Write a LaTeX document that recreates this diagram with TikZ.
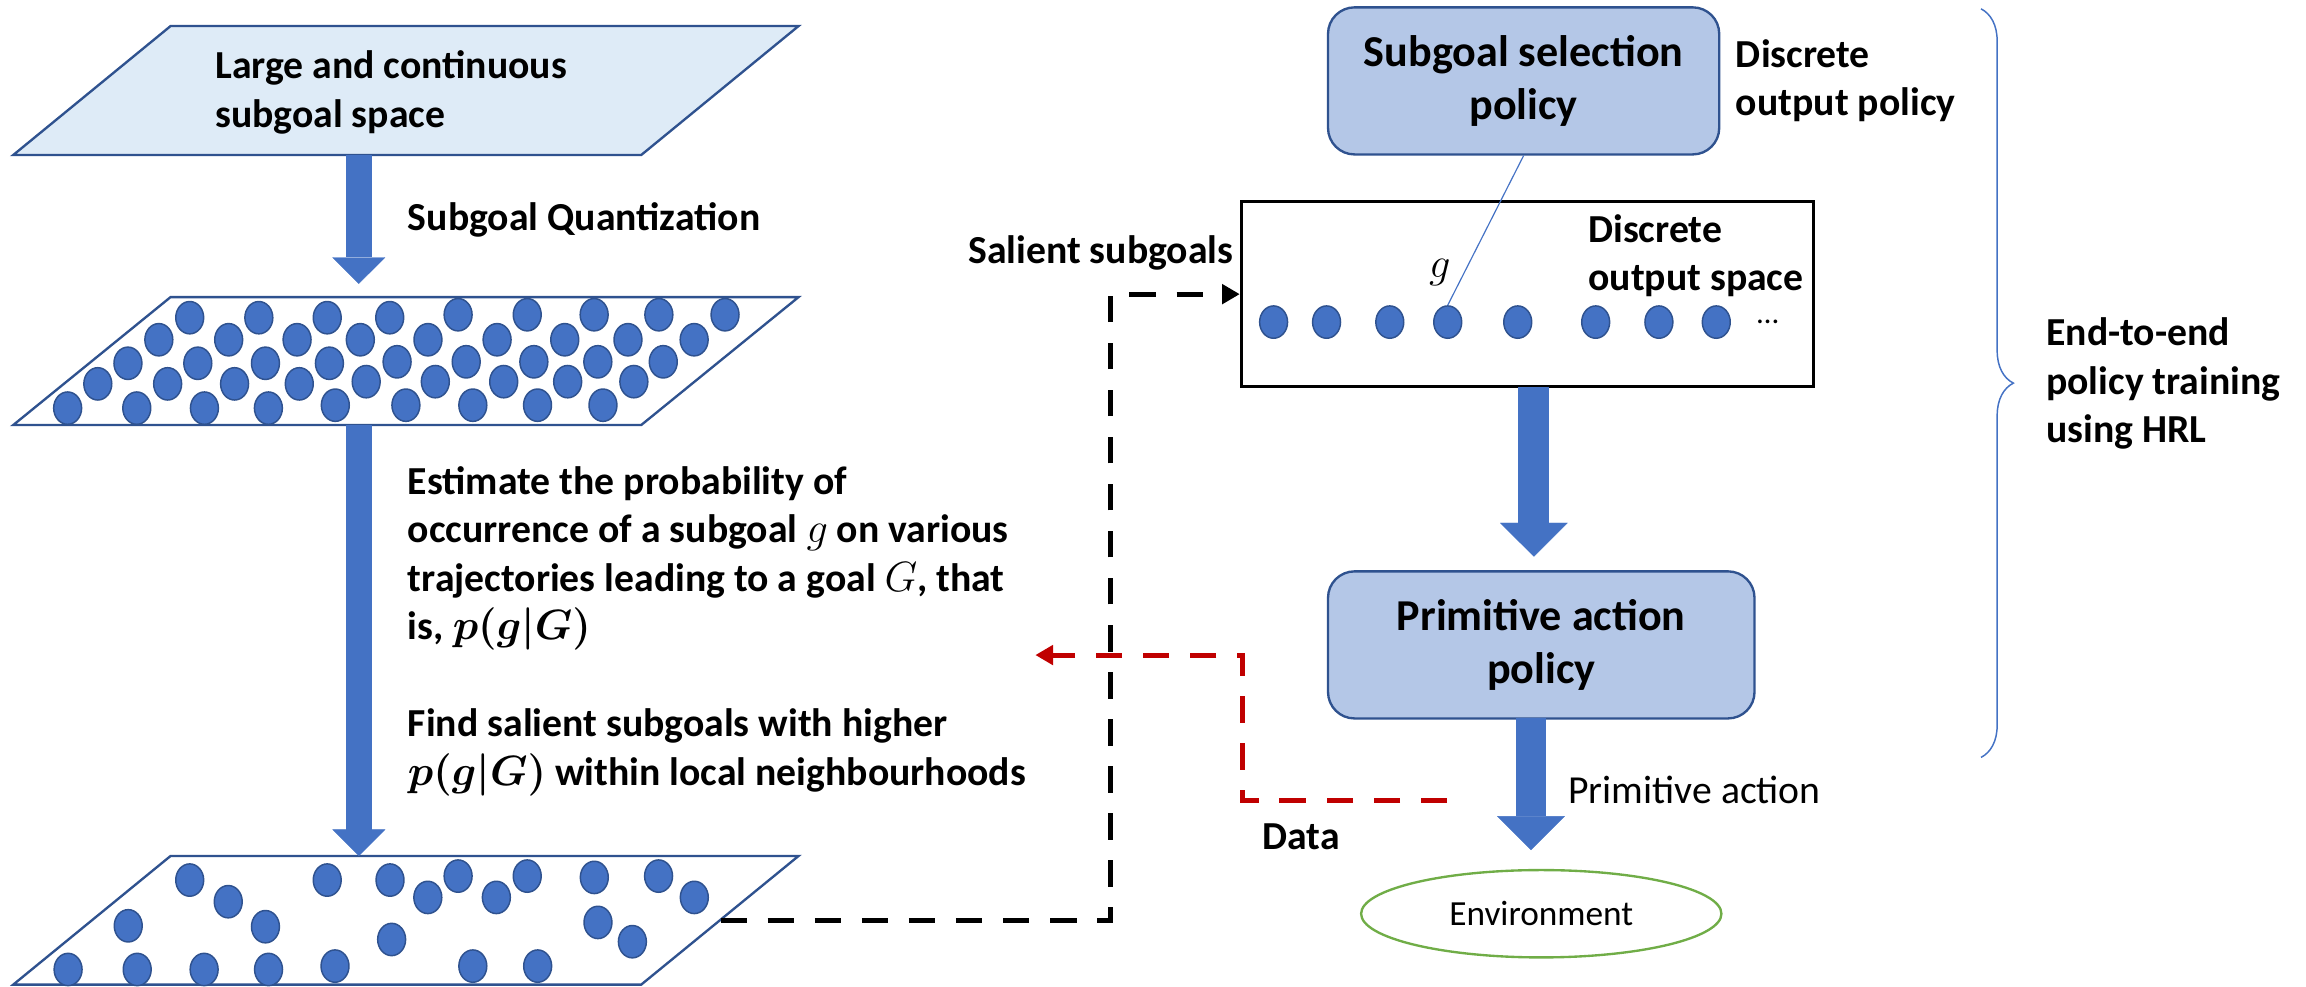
\documentclass[tikz,border=0pt]{standalone}
\usepackage{fontspec}
\setmainfont{Carlito}
\usetikzlibrary{shapes.geometric,decorations.pathreplacing,arrows.meta,calc}

\definecolor{accent}{HTML}{4472C4}
\definecolor{accentdark}{HTML}{2F528F}
\definecolor{paleblue}{HTML}{DEEBF7}
\definecolor{policyfill}{HTML}{B4C7E7}
\definecolor{envgreen}{HTML}{70AD47}
\definecolor{datared}{HTML}{C00000}

\begin{document}
\begin{tikzpicture}[x=0.5pt,y=-0.5pt,
  txt/.style={inner sep=0pt, align=left, font=\fontsize{13.5}{16.5}\selectfont\bfseries},
  plain/.style={inner sep=0pt, font=\fontsize{13.5}{16.5}\selectfont},
  policybox/.style={draw=accentdark, line width=0.8pt, fill=policyfill, rounded corners=9pt,
    align=center, inner sep=0pt, font=\fontsize{15}{18}\selectfont\bfseries},
  para/.style={draw=accentdark, line width=0.8pt},
  leftarrow/.style={line width=9pt, draw=accent, -{Triangle[length=9pt,width=18pt,line width=0.1pt]}},
  rightarrow/.style={line width=10.5pt, draw=accent, -{Triangle[length=11.5pt,width=23pt,line width=0.1pt]}},
  dashlink/.style={line width=1.7pt, dash pattern=on 9pt off 7pt},
  dot/.style={fill=accent, draw=accentdark, line width=0.5pt},
  dotnode/.style={ellipse, fill=accent, draw=accentdark, line width=0.5pt, inner sep=0pt,
    minimum width=9.5pt, minimum height=11pt}
]
\path[use as bounding box] (0,0) rectangle (1568,671);

% ---------- left column: the three subgoal spaces ----------
\draw[para, fill=paleblue] (116,17.7) -- (543,17.7) -- (436,105.4) -- (9,105.4) -- cycle;
\draw[para, fill=white] (116,202) -- (543,202) -- (436,289) -- (9,289) -- cycle;
\draw[para, fill=white] (116,582) -- (543,582) -- (436,669.5) -- (9,669.5) -- cycle;

\node[txt, anchor=west] (spacelbl) at (146,63) {Large and continuous\\subgoal space};

% quantized subgoals
\foreach \x/\y in {129/216,176/216,222.5/216,265/216,311.5/214,358.5/214,404/214,448/214,493/214,
  108/231,155.5/231,202/231,245/231,291/231,338/231,384/231,427/231,472/231,
  87/247,134.5/247,180.5/247,224/247,270/246,317/246,363/246,406.5/246,451/246,
  66.5/261,114/261,159.5/261,203.5/261,249/259.5,296/259.5,342.5/259.5,386/259.5,431/259.5,
  46/277.5,93/277.5,139/277.5,182.5/277.5,228/275.5,276/275.5,321.5/275.5,365.5/275.5,410/275.5}
  \filldraw[dot] (\x,\y) ellipse [x radius=4.75pt, y radius=5.5pt];

% salient subgoals
\foreach \x/\y in {129/598.4,155.2/613.1,87.2/629.5,180.5/630.1,222.5/598.4,265.2/598.4,290.9/610.2,
  311.5/595.7,337.5/610.2,358.5/595.7,404.1/596.6,447.8/595.7,472.1/610.2,406.6/627.2,430/640.3,
  266.3/638.8,46.3/659.2,93.3/659.2,138.8/659.2,182.6/659.2,227.8/656.9,321.5/656.9,365.6/656.9}
  \filldraw[dot] (\x,\y) ellipse [x radius=4.75pt, y radius=5.5pt];

\coordinate (a1s) at (244,105.4);
\coordinate (a1e) at (244,193);
\coordinate (a2s) at (244,289);
\coordinate (a2e) at (244,582);
\draw[leftarrow] (a1s) -- (a1e);
\draw[leftarrow] (a2s) -- (a2e);

\node[txt, anchor=west] (quant) at (277,149.6) {Subgoal Quantization};
\node[txt, anchor=west] (estimate) at (277,379.5)
  {Estimate the probability of\\occurrence of a subgoal $g$ on various\\trajectories leading to a goal $G$, that\\is, {\boldmath$p(g|G)$}};
\node[txt, anchor=west] (findsal) at (277,511.5)
  {Find salient subgoals with higher\\{\boldmath$p(g|G)$} within local neighbourhoods};

% ---------- right column: the HRL policies ----------
\node[policybox, minimum width=133pt, minimum height=50pt] (sel) at (1036,55) {Subgoal selection\\policy};
\node[txt, anchor=west] (selnote) at (1180,55) {Discrete\\output policy};

\node[draw=black, line width=1.1pt, minimum width=194.5pt, minimum height=63pt, inner sep=0pt] (osp) at (1038.6,200) {};
\node[txt, anchor=west] (osplbl) at (1079.6,174) {Discrete\\output space};
\foreach \x in {866,902,945,1032,1085,1128,1167}
  \filldraw[dot] (\x,219) ellipse [x radius=4.75pt, y radius=5.5pt];
\node[dotnode] (gdot) at (984.4,219) {};
\node[inner sep=0pt, font=\fontsize{14}{16}\selectfont] (glbl) at (979,185) {$g$};
\node[inner sep=0pt, anchor=base, font=\fontsize{10.5}{12}\selectfont] (more) at (1202,220) {\dots};
\draw[accent, line width=0.4pt] (sel.south) -- (gdot.north);

\node[policybox, minimum width=145pt, minimum height=50pt] (prim) at (1048,438.5) {Primitive action\\policy};

\coordinate (a3s) at (1043,263);
\coordinate (a3e) at (1043,378.5);
\coordinate (a4s) at (1041,488.4);
\coordinate (a4e) at (1041,578);
\draw[rightarrow] (a3s) -- (a3e);
\draw[rightarrow] (a4s) -- (a4e);

\node[ellipse, draw=envgreen, line width=0.8pt, fill=white, minimum width=122.5pt, minimum height=29.7pt,
  inner sep=0pt, font=\fontsize{12}{14}\selectfont] (env) at (1048,621.3) {Environment};
\node[plain, anchor=west] (primlbl) at (1066,537) {Primitive action};

% ---------- data flow ----------
\coordinate (redstart) at (984,544.4);
\coordinate (redend) at (704,445.4);
\draw[dashlink, datared, -{Triangle[length=6pt,width=6.5pt]}] (redstart) -- (845,544.4) |- (redend);
\node[txt, anchor=west] (datalbl) at (858,569) {Data};

\coordinate (p3r) at (490,626);
\draw[dashlink, black, -{Triangle[length=6pt,width=6.5pt]}] (p3r) -- (755,626) |- (osp.west);
\node[txt, anchor=east] (salient) at (839,172) {Salient subgoals};

% ---------- end-to-end training ----------
\draw[accent, line width=0.5pt, decorate, decoration={brace, amplitude=11pt}] (1347,6) -- (1347,515);
\node[txt, anchor=west] (hrl) at (1391,261) {End-to-end\\policy training\\using HRL};
\end{tikzpicture}
\end{document}
